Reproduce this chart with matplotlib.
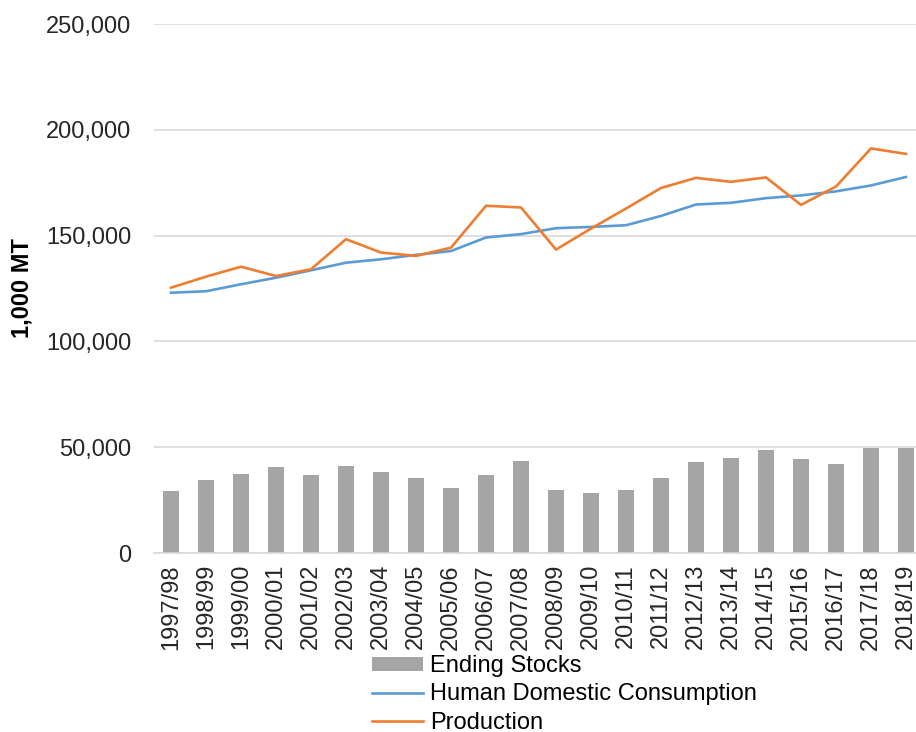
import numpy as np
import matplotlib.pyplot as plt
from matplotlib.ticker import FuncFormatter

# Data (1,000 MT)
years = ['1997/98', '1998/99', '1999/00', '2000/01', '2001/02', '2002/03',
         '2003/04', '2004/05', '2005/06', '2006/07', '2007/08', '2008/09',
         '2009/10', '2010/11', '2011/12', '2012/13', '2013/14', '2014/15',
         '2015/16', '2016/17', '2017/18', '2018/19']
ending_stocks = [29200, 34500, 37500, 40700, 36700, 41300, 38300, 35300, 30700,
                 36700, 43700, 29900, 28400, 29900, 35300, 42900, 45100, 48900,
                 44300, 42100, 49700, 49700]
consumption = [123000, 123700, 127000, 130100, 133600, 137200, 138800, 140900,
               142700, 149100, 150700, 153500, 154100, 154900, 159300, 164700,
               165500, 167700, 169000, 170900, 173700, 177700]
production = [125400, 130600, 135300, 130900, 134100, 148300, 142000, 140400,
              144300, 164100, 163300, 143400, 153300, 162800, 172500, 177300,
              175400, 177500, 164500, 173200, 191200, 188600]

plt.rcParams['font.family'] = ['Liberation Sans', 'DejaVu Sans']

fig = plt.figure(figsize=(9.16, 7.32), dpi=100)
# axes runs a little past the right edge, like the cropped original
ax = fig.add_axes([153.5 / 916, 1 - 553 / 732, 770 / 916, 529 / 732])

x = np.arange(len(years))
bars = ax.bar(x, ending_stocks, width=0.43, color='#a5a5a5', label='Ending Stocks', zorder=2)
l1, = ax.plot(x, consumption, color='#5b9bd5', lw=1.9, label='Human Domestic Consumption', zorder=3)
l2, = ax.plot(x, production, color='#ed7d31', lw=1.9, label='Production', zorder=3)

ax.set_xlim(-0.5, len(years) - 0.5)
ax.set_ylim(0, 250000)
ax.set_yticks(np.arange(0, 250001, 50000))
ax.yaxis.set_major_formatter(FuncFormatter(lambda v, p: f'{int(v):,}'))
ax.grid(axis='y', color='#d9d9d9', lw=1.2, zorder=0)
ax.set_axisbelow(True)
for s in ['top', 'right', 'left']:
    ax.spines[s].set_visible(False)
ax.spines['bottom'].set_color('#d9d9d9')
ax.spines['bottom'].set_linewidth(1.2)

ax.set_xticks(x)
ax.set_xticklabels(years, rotation=90)
ax.tick_params(axis='y', length=0, pad=16, labelsize=17, labelcolor='#262626')
ax.tick_params(axis='x', length=0, pad=8, labelsize=17, labelcolor='#262626')

fig.text(22 / 916, 1 - 288 / 732, '1,000 MT', rotation=90, fontsize=17,
         fontweight='bold', ha='center', va='center', color='#000000')

fig.legend([bars, l1, l2], ['Ending Stocks', 'Human Domestic Consumption', 'Production'],
           loc='upper left', bbox_to_anchor=(372 / 916, 1 - 655 / 732),
           frameon=False, fontsize=17, handlelength=2.15, handleheight=0.55,
           handletextpad=0.3, labelspacing=0.27, borderpad=0, borderaxespad=0)

fig.savefig('out.png', dpi=100)
